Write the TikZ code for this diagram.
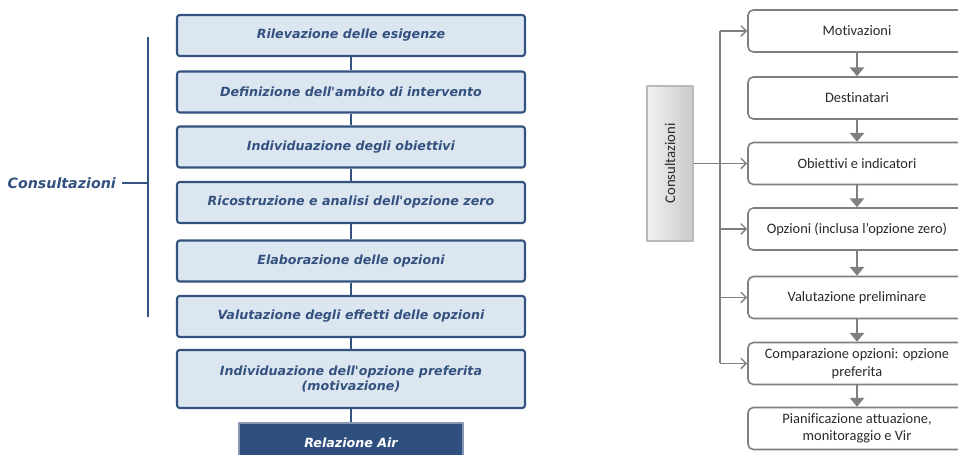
\documentclass[tikz,border=0pt]{standalone}
\usepackage{fontspec}
\setmainfont{DejaVu Sans}
\newfontfamily\calibri[Ligatures=NoCommon]{Carlito}
\usetikzlibrary{arrows.meta}
\definecolor{blu}{HTML}{34527F}
\definecolor{bluscuro}{HTML}{2F4F7E}
\definecolor{azzurro}{HTML}{DCE6F1}
\definecolor{grigio}{HTML}{7F7F7F}
\definecolor{testo}{HTML}{2A2A2A}
\tikzset{
	fase/.style={draw=blu, fill=azzurro, line width=1.2pt, rounded corners=1.5pt,
		minimum width=6.96cm, minimum height=0.82cm, align=center, text=blu,
		font=\fontsize{7.2}{8.6}\selectfont\bfseries\itshape},
	passo/.style={draw=grigio, fill=white, line width=0.9pt, rounded corners=3pt,
		minimum width=4.36cm, minimum height=0.84cm, align=center, text=testo,
		font=\calibri\fontsize{8.2}{10}\selectfont},
	freccia/.style={draw=grigio, line width=0.8pt, -{Straight Barb[length=3pt,width=6pt]}},
	giu/.style={draw=grigio, line width=1.6pt, -{Triangle[length=5pt,width=8pt]}}
}
\begin{document}
\begin{tikzpicture}[x=0.02cm, y=-0.02cm, line join=round]
		\useasboundingbox (0,0) rectangle (958,455);
		\clip (0,0) rectangle (958,455);
		% schema di sinistra
		\foreach \t/\y [count=\i] in {Rilevazione delle esigenze/35.5,
			Definizione dell\textquotesingle ambito di intervento/92,
			Individuazione degli obiettivi/147,
			Ricostruzione e analisi dell\textquotesingle opzione zero/202.5,
			Elaborazione delle opzioni/261,
			Valutazione degli effetti delle opzioni/316.5}
		\node[fase] (l\i) at (351,\y) {\t};
		\node[fase, minimum height=1.16cm] (l7) at (351,379) {Individuazione dell\textquotesingle opzione preferita\\(motivazione)};
		\node[fase, fill=bluscuro, draw=blu!60, line width=0.6pt, rounded corners=0pt,
			minimum width=4.48cm, minimum height=0.8cm, text=white] (lair) at (351,443) {Relazione Air};
		\foreach \i/\j in {1/2,2/3,3/4,4/5,5/6,6/7,7/air}
		\draw[blu, line width=1.1pt] (l\i) -- (l\j);
		\coordinate (bt) at (148,37);
		\coordinate (bb) at (148,317);
		\coordinate (bm) at (148,183);
		\node[anchor=east, text=blu, font=\fontsize{8.1}{9}\selectfont\bfseries\itshape] (lcons) at (122,183) {Consultazioni};
		\draw[blu, line width=1.2pt] (bt) -- (bb);
		\draw[blu, line width=1.2pt] (lcons.east) -- (bm);
		% schema di destra
		\foreach \t/\y [count=\i] in {Motivazioni/31, Destinatari/98,
			Obiettivi e indicatori/163.5, Opzioni (inclusa l’opzione zero)/229,
			Valutazione preliminare/297.5, {Comparazione opzioni: opzione\\preferita}/363.5,
			{Pianificazione attuazione,\\monitoraggio e Vir}/428.5}
		\node[passo] (r\i) at (857,\y) {\t};
		\foreach \i/\j in {1/2,2/3,3/4,4/5,5/6,6/7}
		\draw[giu] (r\i) -- (r\j);
		\node[draw=gray!55, line width=0.6pt, left color=gray!10, right color=gray!42,
			minimum width=0.92cm, minimum height=3.1cm] (cons) at (670,163.5) {};
		\node[rotate=90, text=testo, font=\calibri\fontsize{8.4}{9}\selectfont] (consT) at (cons) {Consultazioni};
		\coordinate (bus) at (720,0);
		\draw[grigio, line width=0.8pt] (r1.west -| bus) -- (r6.west -| bus);
		\foreach \i in {1,4,5,6}
		\draw[freccia] (r\i.west -| bus) -- (r\i.west);
		\draw[freccia] (cons.east) -- (r3.west);
\end{tikzpicture}
\end{document}
